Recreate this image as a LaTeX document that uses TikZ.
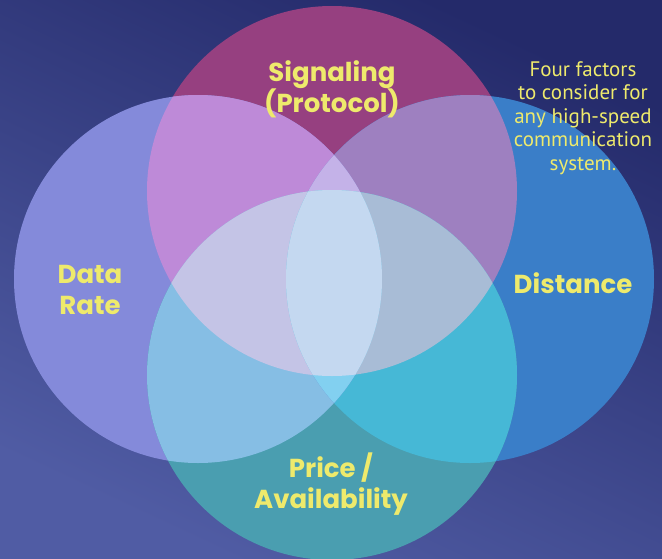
\documentclass[tikz,border=0pt]{standalone}
\usepackage{fontspec}
\newfontfamily\headfont{Poppins}
\newfontfamily\notefont{PT Sans}
\begin{document}
\begin{tikzpicture}[x=1pt,y=-1pt,
  label/.style={text=labelyellow, font=\headfont\bfseries\fontsize{26}{31}\selectfont, align=center, inner sep=0pt},
  note/.style={text=labelyellow, font=\notefont\fontsize{21}{23.5}\selectfont, align=center, inner sep=0pt}]
% palette
\definecolor{bgtop}{RGB}{36,42,106}
\definecolor{bgbot}{RGB}{80,92,164}
\definecolor{labelyellow}{RGB}{238,234,108}
\definecolor{cT}{RGB}{150,64,128}
\definecolor{cL}{RGB}{132,138,218}
\definecolor{cR}{RGB}{58,126,200}
\definecolor{cB}{RGB}{74,158,176}
\definecolor{cTL}{RGB}{190,138,216}
\definecolor{cTR}{RGB}{158,128,192}
\definecolor{cTB}{RGB}{176,168,208}
\definecolor{cBL}{RGB}{134,190,228}
\definecolor{cBR}{RGB}{70,184,214}
\definecolor{cLR}{RGB}{136,150,226}
\definecolor{cTLB}{RGB}{196,196,230}
\definecolor{cTRB}{RGB}{168,188,214}
\definecolor{cTLR}{RGB}{196,178,232}
\definecolor{cBLR}{RGB}{130,208,240}
\definecolor{cAll}{RGB}{196,216,240}

% background
\shade[top color=bgtop, bottom color=bgbot, shading angle=-25] (0,0) rectangle (662,558);
\useasboundingbox (0,0) rectangle (662,558);

% circle centres
\coordinate (T) at (332,191);
\coordinate (L) at (198,279);
\coordinate (R) at (470,279);
\coordinate (B) at (332,375);

% single circles
\fill[cT] (T) circle[radius=185];
\fill[cL] (L) circle[radius=184];
\fill[cR] (R) circle[radius=184];
\fill[cB] (B) circle[radius=185];

% pairwise overlaps
\begin{scope}
  \clip (T) circle[radius=185];
  \fill[cTL] (L) circle[radius=184];
  \fill[cTR] (R) circle[radius=184];
  \fill[cTB] (B) circle[radius=185];
\end{scope}
\begin{scope}
  \clip (B) circle[radius=185];
  \fill[cBL] (L) circle[radius=184];
  \fill[cBR] (R) circle[radius=184];
\end{scope}
\begin{scope}
  \clip (L) circle[radius=184];
  \fill[cLR] (R) circle[radius=184];
\end{scope}

% triple overlaps
\begin{scope}
  \clip (T) circle[radius=185];
  \clip (L) circle[radius=184];
  \fill[cTLB] (B) circle[radius=185];
  \fill[cTLR] (R) circle[radius=184];
\end{scope}
\begin{scope}
  \clip (T) circle[radius=185];
  \clip (R) circle[radius=184];
  \fill[cTRB] (B) circle[radius=185];
\end{scope}
\begin{scope}
  \clip (B) circle[radius=185];
  \clip (L) circle[radius=184];
  \fill[cBLR] (R) circle[radius=184];
\end{scope}

% common core
\begin{scope}
  \clip (T) circle[radius=185];
  \clip (L) circle[radius=184];
  \clip (R) circle[radius=184];
  \fill[cAll] (B) circle[radius=185];
\end{scope}

% labels
\node[label] (signaling) at (332,89) {Signaling\\(Protocol)};
\node[label] (datarate) at (90,290) {Data\\Rate};
\node[label] (distance) at (573,283) {Distance};
\node[label] (price) at (331,484) {Price /\\Availability};
\node[note] (factors) at (583,118) {Four factors\\to consider for\\any high-speed\\communication\\system.};
\end{tikzpicture}
\end{document}
